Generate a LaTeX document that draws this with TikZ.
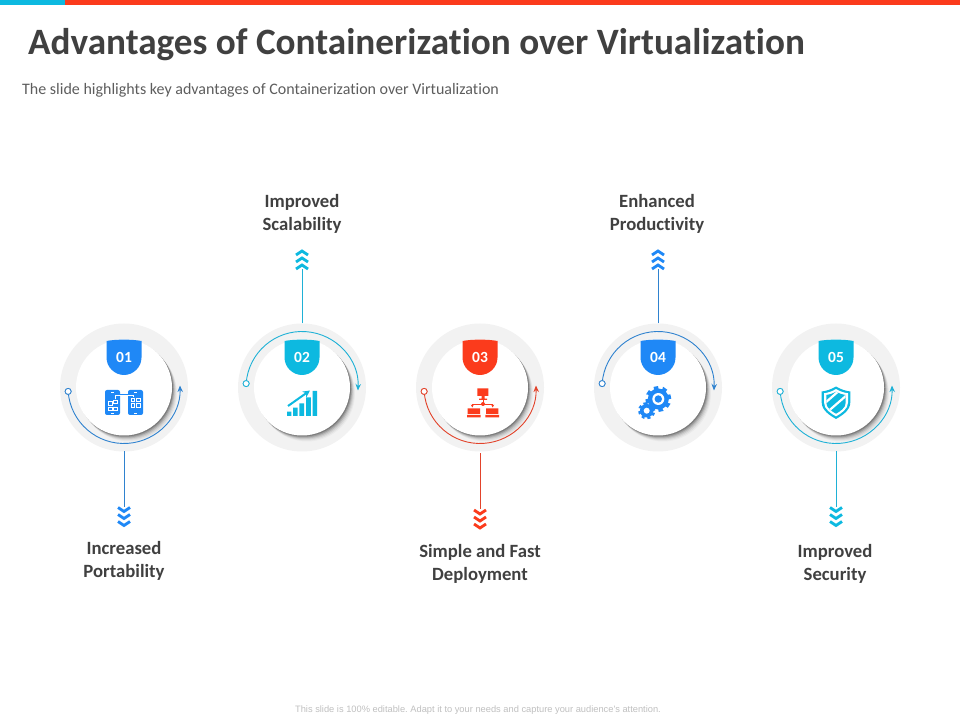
\documentclass[tikz,border=0pt]{standalone}
\usepackage{fontspec}
\setmainfont[Ligatures=NoCommon]{Carlito}
\newfontfamily\footfont{Liberation Sans}
\usepackage{xcolor}
\usetikzlibrary{positioning}
\usetikzlibrary{arrows.meta}
\usetikzlibrary{calc,shadows}
\definecolor{mainblue}{HTML}{1F88F6}
\definecolor{maincyan}{HTML}{0DB9E0}
\definecolor{mainred}{HTML}{FB3B1C}
\definecolor{linecyan}{HTML}{1FB1D6}
\definecolor{lineblue}{HTML}{2F82CF}
\definecolor{linered}{HTML}{E2432B}
\definecolor{ringgray}{HTML}{F2F2F2}
\definecolor{textgray}{HTML}{404040}
\newcommand{\shieldpath}{(0,16) .. controls (5,13) and (10,11.5) .. (14.3,11) -- (14.3,0) .. controls (14.3,-8) and (6,-13) .. (0,-16.5) .. controls (-6,-13) and (-14.3,-8) .. (-14.3,0) -- (-14.3,11) .. controls (-10,11.5) and (-5,13) .. (0,16) -- cycle}
\tikzset{ring node/.style={circle,fill=ringgray,minimum size=128pt,inner sep=0pt,outer sep=0pt},
	disc node/.style={circle,fill=white,minimum size=96pt,inner sep=0pt,outer sep=0pt,
		general shadow={fill=black,opacity=.03,shadow xshift=5pt,shadow yshift=-6pt},
		general shadow={fill=black,opacity=.05,shadow xshift=4.2pt,shadow yshift=-5pt},
		general shadow={fill=black,opacity=.07,shadow xshift=3.4pt,shadow yshift=-4pt},
		general shadow={fill=black,opacity=.1,shadow xshift=2.6pt,shadow yshift=-3pt},
		general shadow={fill=black,opacity=.15,shadow xshift=1.8pt,shadow yshift=-2pt},
		general shadow={fill=black,opacity=.2,shadow xshift=1pt,shadow yshift=-1pt}},
	num node/.style={text=white,font=\bfseries\fontsize{15.5}{15.5}\selectfont,inner sep=0pt},
	chev node/.style={minimum width=16pt,minimum height=21pt,inner sep=0pt,outer sep=0pt},
	dot node/.style={circle,fill=white,draw,line width=.8pt,minimum size=6pt,inner sep=0pt},
	text node/.style={text=textgray,align=center,inner sep=0pt,font=\bfseries\fontsize{18.7}{23}\selectfont},
	arc line/.style={line width=.9pt,-{Stealth[length=6.5pt,width=5.5pt]}},
	stem line/.style={line width=.9pt},
	badge/.pic={\fill[pic actions] (-17.5,-1.5) .. controls (-8,0.3) and (8,0.3) .. (17.5,-1.5) -- (17.5,-18) .. controls (17.5,-28) and (9,-35.5) .. (0,-35.5) .. controls (-9,-35.5) and (-17.5,-28) .. (-17.5,-18) -- cycle;},
	chevrons/.pic={\draw[pic actions,line width=2.8pt]
		(-6,10) -- (0,6) -- (6,10)
		(-6,3) -- (0,-1) -- (6,3)
		(-6,-4) -- (0,-8) -- (6,-4);},
	phones/.pic={\fill[mainblue,rounded corners=2pt] (-19,-12.5) rectangle (-4,12.5);
		\fill[mainblue,rounded corners=2pt] (4,-12.5) rectangle (19,12.5);
		\draw[mainblue,line width=2.6pt] (-5,7.5) -- (5,7.5);
		\draw[white,line width=.7pt] (-9,3) -- (-9,7.5) -- (9,7.5) -- (9,5);
		\draw[white,line width=.7pt] (-15.5,-2.5) rectangle (-12,1) (-10.5,-1) rectangle (-7,2.5)
			(-15.5,-8) rectangle (-12,-4.5) (-10.5,-8) rectangle (-7,-4.5)
			(7,1) rectangle (10.5,4.5) (12.5,1) rectangle (16,4.5)
			(7,-4.5) rectangle (10.5,-1) (12.5,-4.5) rectangle (16,-1)
			(-13,10.5) -- (-10,10.5) (10,10.5) -- (13,10.5) (-13,-10.5) -- (-10,-10.5) (10,-10.5) -- (13,-10.5);},
	growth/.pic={\fill[maincyan] (-15,-13.5) rectangle (-10.6,-9.2) (-9,-13.5) rectangle (-4.4,-5.2)
			(-2.6,-13.5) rectangle (2.2,-0.8) (4,-13.5) rectangle (8.8,5.2) (10.6,-13.5) rectangle (15.2,11.5);
		\draw[maincyan,line width=2pt,-{Stealth[length=7pt,width=7pt]}] (-14,-3.5) -- (8,12);},
	network/.pic={\fill[mainred] (-2.7,6.5) rectangle (8.3,14.2) (1.5,3.5) rectangle (4.5,6.5) (-1,2.5) rectangle (7,3.8);
		\fill[mainred] (-12.3,-11.5) rectangle (0,-5.8) (-13,-14.8) rectangle (0.7,-12.5);
		\fill[mainred] (6,-11.5) rectangle (18.3,-5.8) (5.4,-14.8) rectangle (19,-12.5);
		\draw[mainred,line width=.9pt] (3,2.5) -- (3,-1.5);
		\draw[mainred,line width=.9pt,{Stealth[length=3pt,width=3pt]}-{Stealth[length=3pt,width=3pt]}] (-7.7,-5) -- (-7.7,-1.5) -- (12.7,-1.5) -- (12.7,-5);
		\fill[mainred] (3,-1.5) circle (2);},
	gears/.pic={\fill[mainblue] (0.3,3.5) circle (10.5);
		\draw[mainblue,line width=3pt,dash pattern=on 4.5pt off 4.5pt] (0.3,3.5) circle (11.5);
		\fill[white] (0.3,3.5) circle (6);
		\fill[mainblue] (0.3,3.5) circle (3.7);
		\fill[mainblue] (-11.3,-8.2) circle (6.8);
		\draw[mainblue,line width=2.2pt,dash pattern=on 3pt off 2.97pt] (-11.3,-8.2) circle (7.5);
		\fill[white] (-11.3,-8.2) circle (3);},
	shield/.pic={\fill[maincyan] \shieldpath;
		\fill[white,scale=.84] \shieldpath;
		\begin{scope}
			\clip[scale=.68] \shieldpath;
			\fill[maincyan] (-15,-17) rectangle (15,17);
			\draw[white,line width=2.2pt] (-15,-4) -- (9,17) (-15,-15) -- (15,11);
		\end{scope}},
}

\begin{document}
\frenchspacing
\begin{tikzpicture}[x=1pt,y=1pt]
	\useasboundingbox (0,0) rectangle (960,720);
	\fill[mainred] (65,715) rectangle (960,720);
	\fill[maincyan] (0,715) rectangle (65,720);

	\node[text=textgray,font=\bfseries\fontsize{37.2}{40}\selectfont,anchor=base west,inner sep=0pt] (title) at (28,665) {Advantages of Containerization over Virtualization};
	\node[text=textgray!85,font=\fontsize{16}{18}\selectfont,anchor=base west,inner sep=0pt] (subtitle) at (22,625.5) {The slide highlights key advantages of Containerization over Virtualization};

	\node[ring node] (ring1) at (124,332.5) {};
	\node[ring node] (ring2) [right = 50pt of ring1] {};
	\node[ring node] (ring3) [right = 50pt of ring2] {};
	\node[ring node] (ring4) [right = 50pt of ring3] {};
	\node[ring node] (ring5) [right = 50pt of ring4] {};

	\node[disc node] (disc1) at (ring1.center) {};
	\node[disc node] (disc2) at (ring2.center) {};
	\node[disc node] (disc3) at (ring3.center) {};
	\node[disc node] (disc4) at (ring4.center) {};
	\node[disc node] (disc5) at (ring5.center) {};

	\pic[fill=mainblue] at (disc1.north) {badge};
	\pic[fill=maincyan] at (disc2.north) {badge};
	\pic[fill=mainred] at (disc3.north) {badge};
	\pic[fill=mainblue] at (disc4.north) {badge};
	\pic[fill=maincyan] at (disc5.north) {badge};

	\node[num node] (num1) [below = 12.5pt of disc1.north] {01};
	\node[num node] (num2) [below = 12.5pt of disc2.north] {02};
	\node[num node] (num3) [below = 12.5pt of disc3.north] {03};
	\node[num node] (num4) [below = 12.5pt of disc4.north] {04};
	\node[num node] (num5) [below = 12.5pt of disc5.north] {05};

	\pic at ($(disc1.center)+(0,-15)$) {phones};
	\pic at ($(disc2.center)+(0,-15)$) {growth};
	\pic at ($(disc3.center)+(0,-15)$) {network};
	\pic at ($(disc4.center)+(0,-15)$) {gears};
	\pic at ($(disc5.center)+(0,-15)$) {shield};

	\node[dot node,draw=lineblue] (dot1) at ($(ring1.center)+(184:56)$) {};
	\node[dot node,draw=linecyan] (dot2) at ($(ring2.center)+(176:56)$) {};
	\node[dot node,draw=linered] (dot3) at ($(ring3.center)+(184:56)$) {};
	\node[dot node,draw=lineblue] (dot4) at ($(ring4.center)+(176:56)$) {};
	\node[dot node,draw=linecyan] (dot5) at ($(ring5.center)+(184:56)$) {};

	\draw[arc line,lineblue] (dot1.center) arc[start angle=184,end angle=362,radius=56];
	\draw[arc line,linecyan] (dot2.center) arc[start angle=176,end angle=-3,radius=56];
	\draw[arc line,linered] (dot3.center) arc[start angle=184,end angle=362,radius=56];
	\draw[arc line,lineblue] (dot4.center) arc[start angle=176,end angle=-3,radius=56];
	\draw[arc line,linecyan] (dot5.center) arc[start angle=184,end angle=362,radius=56];
	\node[dot node,draw=lineblue] at (dot1) {};
	\node[dot node,draw=linecyan] at (dot2) {};
	\node[dot node,draw=linered] at (dot3) {};
	\node[dot node,draw=lineblue] at (dot4) {};
	\node[dot node,draw=linecyan] at (dot5) {};

	\node[chev node] (chev1) [below = 55.5pt of ring1] {};
	\node[chev node] (chev2) [above = 54pt of ring2] {};
	\node[chev node] (chev3) [below = 58pt of ring3] {};
	\node[chev node] (chev4) [above = 54pt of ring4] {};
	\node[chev node] (chev5) [below = 55.5pt of ring5] {};

	\pic[draw=mainblue] at (chev1) {chevrons};
	\pic[draw=maincyan,rotate=180] at (chev2) {chevrons};
	\pic[draw=mainred] at (chev3) {chevrons};
	\pic[draw=mainblue,rotate=180] at (chev4) {chevrons};
	\pic[draw=maincyan] at (chev5) {chevrons};

	\path[draw,stem line,lineblue] (ring1.south) -- (chev1.north);
	\path[draw,stem line,linecyan] (ring2.north) -- (chev2.south);
	\path[draw,stem line,linered,shorten <=2pt] (ring3.south) -- (chev3.north);
	\path[draw,stem line,lineblue] (ring4.north) -- (chev4.south);
	\path[draw,stem line,linecyan] (ring5.south) -- (chev5.north);

	\node[text node] (label1) [below = 13pt of chev1] {Increased\\Portability};
	\node[text node] (label2) [above = 15pt of chev2] {Improved\\Scalability};
	\node[text node] (label3) [below = 14pt of chev3] {Simple and Fast\\Deployment};
	\node[text node] (label4) [above = 15pt of chev4,xshift=-1pt] {Enhanced\\Productivity};
	\node[text node] (label5) [below = 16pt of chev5,xshift=-1pt] {Improved\\Security};

	\node[text=gray!50,font=\footfont\fontsize{9.3}{10}\selectfont,inner sep=0pt] (footer) at (478,9.5) {This slide is 100\% editable. Adapt it to your needs and capture your audience's attention.};
\end{tikzpicture}
\end{document}
